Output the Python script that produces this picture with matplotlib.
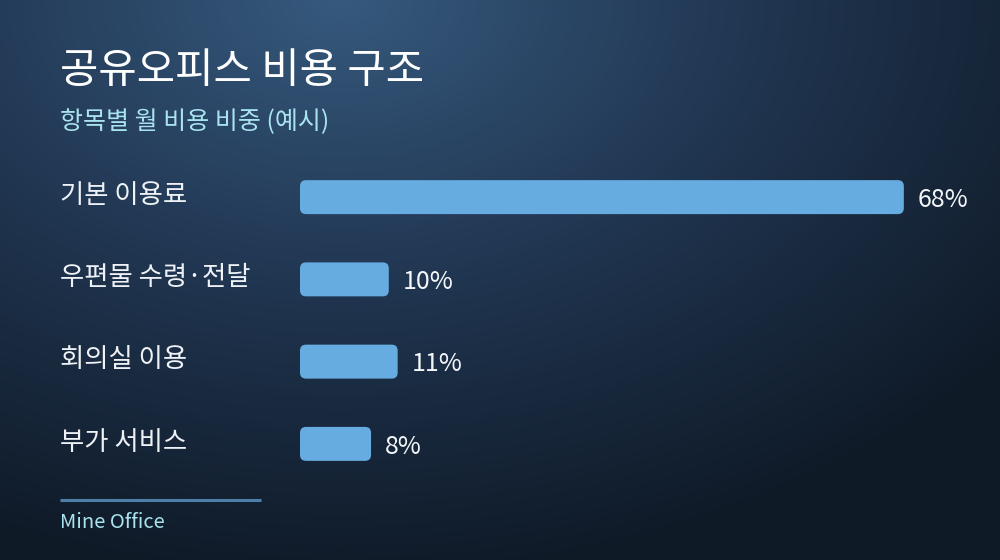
import numpy as np
import matplotlib.pyplot as plt
from matplotlib.patches import FancyBboxPatch
from matplotlib.colors import LinearSegmentedColormap
import matplotlib.transforms as mtransforms

plt.rcParams['font.family'] = ['Noto Sans CJK KR', 'DejaVu Sans']

title = '공유오피스 비용 구조'
subtitle = '항목별 월 비용 비중 (예시)'
footer = 'Mine Office'

categories = ['기본 이용료', '우편물 수령·전달', '회의실 이용', '부가 서비스']
shares = [68, 10, 11, 8]

W, H = 1000, 560
fig = plt.figure(figsize=(W / 100, H / 100), dpi=100)

# 배경: 위쪽 가운데가 밝은 원형 그라데이션
bg = fig.add_axes([0, 0, 1, 1])
yy, xx = np.mgrid[0:H, 0:W]
d = np.sqrt(((xx - 340) / 850.0) ** 2 + (yy / 580.0) ** 2)
d = np.clip(d, 0, 1)
cmap = LinearSegmentedColormap.from_list('bg', ['#36597d', '#203550', '#0f1a27'])
bg.imshow(d, cmap=cmap, vmin=0, vmax=1, aspect='auto', extent=(0, W, H, 0))
bg.set_axis_off()

# 막대 영역
ax = fig.add_axes([0.3, 1 - 485 / H, 0.7, 329 / H])
ax.set_xlim(0, 700 / 8.88)
ax.set_ylim(3.5, -0.5)
ax.set_axis_off()

bar_h = 0.413
bars = ax.barh(range(len(shares)), shares, height=bar_h, alpha=0)

px_x = 8.88
px_y = 82.3
for b in bars:
    p = FancyBboxPatch((b.get_x(), b.get_y()), b.get_width(), b.get_height(),
                       boxstyle='round,pad=0,rounding_size=%.3f' % (6 / px_x),
                       mutation_aspect=px_x / px_y,
                       facecolor='#66ace0', edgecolor='none')
    ax.add_patch(p)

for i, v in enumerate(shares):
    ax.annotate(f'{v}%', (v, i), xytext=(10, -2), textcoords='offset points',
                va='center', ha='left', fontsize=18, color='#f4f7fa')

trans = mtransforms.blended_transform_factory(fig.transFigure, ax.transData)
for i, c in enumerate(categories):
    ax.text(0.06, i - 0.02, c, transform=trans, va='center', ha='left',
            fontsize=19, color='#eef2f6')

fig.text(0.06, 1 - 71 / H, title, va='center', ha='left', fontsize=30,
         color='#ffffff')
fig.text(0.06, 1 - 122 / H, subtitle, va='center', ha='left', fontsize=18,
         color='#a9e3ef')

fig.add_artist(plt.Line2D([0.06, 0.261], [1 - 500 / H, 1 - 500 / H],
                          color='#4d7fa8', linewidth=2.2,
                          solid_capstyle='butt'))
fig.text(0.06, 1 - 522 / H, footer, va='center', ha='left', fontsize=14.5,
         color='#a9e3ef')

fig.savefig('out.png', dpi=100)
